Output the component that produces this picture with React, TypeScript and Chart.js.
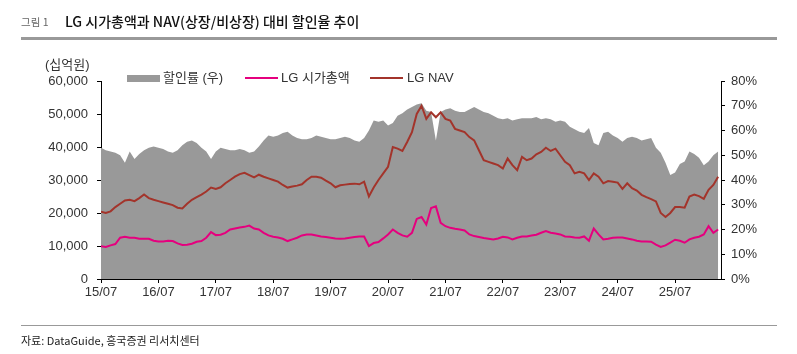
import React, { useEffect, useRef } from "react";
import { Chart, registerables } from "chart.js";

Chart.register(...registerables);

// x-axis: month index from 2015/07 (0) to 2026/04 (129)
const xTickLabels = ["15/07", "16/07", "17/07", "18/07", "19/07", "20/07", "21/07", "22/07", "23/07", "24/07", "25/07"];
const xTickMonths = [0, 12, 24, 36, 48, 60, 72, 84, 96, 108, 120];
const leftTicks = [0, 10000, 20000, 30000, 40000, 50000, 60000];
const rightTicks = [0, 10, 20, 30, 40, 50, 60, 70, 80];

// 할인률 (%), right axis
const discountRate = [
  53, 52, 51.5, 51, 50, 47, 51.5, 48.5, 50.5, 52,
  53, 53.5, 53, 52.5, 51.5, 51, 52, 54, 55.5, 56,
  55, 53, 51.5, 48.5, 51.5, 53, 52.5, 52, 52, 52.5,
  52, 51, 51.5,
  53.5, 56, 58, 57.5, 58, 59, 59.5,
  58, 57, 56.5, 56.5, 57, 58, 57.5, 57, 56.5, 56.5,
  57, 57.5, 57, 56, 55.5, 57, 60, 64, 63.5, 64,
  62, 63, 66, 67, 68.5,
  69.5, 70.5, 71, 68, 67.5,
  56, 67.5, 68.5, 69, 68, 67.5, 67.5, 68.5, 69.5, 68.5,
  67.5, 67, 66, 65, 64.5, 65, 64, 64.5, 65, 65,
  65, 65.5, 64.5, 65, 64.5, 63.5, 64,
  63.5, 61.5, 60.5,
  59.5, 59, 61, 55, 54, 59, 59.5, 58, 57, 55.5,
  57, 57.5, 57, 56, 56.5, 57, 53, 51, 47, 42,
  43, 46.5, 47.5, 51.5, 50.5, 49, 46, 47.5, 50, 51.5,
];

// LG NAV (십억원)
const navValues = [
  20400, 20000, 20500, 21800, 22800, 23800, 24000, 23600, 24500, 25600,
  24500, 24000, 23600, 23200, 22800, 22400, 21600, 21400, 22800, 24000,
  24800, 25600, 26500, 27700, 27300, 27800, 29000, 30000, 31000, 31800,
  32200, 31500, 30800,
  31600, 31000, 30500, 30000, 29500, 28500, 27700,
  28000, 28300, 28700, 30000, 31000, 31000, 30700, 29800, 29000, 27800,
  28400, 28600, 28800, 28900, 28700, 29500, 25000, 27700, 30000, 32000,
  34000, 40000, 39500, 38800, 41500,
  44500, 50000, 52500, 48500, 50500,
  49000, 50500, 48500, 48000, 45500, 45000, 44500, 43000, 42000, 39000,
  36000, 35500, 35000, 34500, 33500, 36500, 34500, 33000, 37000, 36000,
  36500, 37800, 38500, 39800, 38800, 39500, 37500,
  35500, 34500, 32000,
  32500, 32000, 30000, 32000, 31000, 29000, 29700, 29500, 29200, 27300,
  29000, 27500, 26800, 25500, 24800, 24200, 23500, 20000, 18800, 20000,
  21800, 21800, 21600, 25000, 25600, 25100, 24300, 27000, 28500, 31000,
];

// LG 시가총액 (십억원)
const marketCap = [
  9900, 9700, 10200, 10600, 12500, 12800, 12500, 12500, 12200, 12200,
  12200, 11600, 11400, 11400, 11600, 11500, 10800, 10300, 10400, 10700,
  11300, 11500, 12500, 14200, 13300, 13400, 14000, 15000, 15300, 15600,
  15800, 16200, 15300,
  15000, 14000, 13200, 12800, 12600, 12200, 11500,
  12000, 12500, 13200, 13500, 13500, 13200, 12900, 12700, 12500, 12300,
  12200, 12300, 12500, 12700, 12900, 12900, 10000, 10900, 11200, 12300,
  13500, 15000, 14000, 13200, 12800,
  14000, 18200, 18800, 16500, 21500,
  22000, 17000, 16000, 15500, 15200, 15000, 14700, 13500, 13000, 12700,
  12400, 12200, 12000, 12300, 12800, 12600, 12000, 12500, 12900, 12900,
  13200, 13400, 14000, 14500, 14000, 13800, 13500,
  12900, 12800, 12600,
  12500, 12900, 11600, 15300, 13500, 12000, 12200, 12500, 12600, 12600,
  12300, 12000, 11600, 11400, 11400, 11300, 10400, 9700, 10200, 11000,
  11900, 11600, 11000, 12000, 12500, 12800, 13500, 16000, 14000, 15000,
];

const PINK = "#e5007e";
const BROWN = "#a3342b";
const GRAY = "#999999";
const TICK_FONT = { family: "'Liberation Sans', Arial, 'Noto Sans CJK KR', sans-serif", size: 13 };
const TEXT_FONT = "'Liberation Sans', Arial, 'Noto Sans CJK KR', sans-serif";
const KR_FONT = "'Noto Sans CJK KR', 'Liberation Sans', sans-serif";

export default function App() {
  const ref = useRef<HTMLCanvasElement>(null);

  useEffect(() => {
    if (!ref.current) return;
    const toPts = (arr: number[]) => arr.map((v, i) => ({ x: i, y: v }));
    const chart = new Chart(ref.current, {
      type: "line",
      data: {
        datasets: [
          {
            label: "LG 시가총액",
            data: toPts(marketCap),
            borderColor: PINK,
            backgroundColor: PINK,
            borderWidth: 2,
            pointRadius: 0,
            tension: 0,
            fill: false,
            yAxisID: "y",
            order: 1,
          },
          {
            label: "LG NAV",
            data: toPts(navValues),
            borderColor: BROWN,
            backgroundColor: BROWN,
            borderWidth: 2,
            pointRadius: 0,
            tension: 0,
            fill: false,
            yAxisID: "y",
            order: 2,
          },
          {
            label: "할인률 (우)",
            data: toPts(discountRate),
            borderColor: GRAY,
            backgroundColor: GRAY,
            borderWidth: 0,
            pointRadius: 0,
            tension: 0,
            fill: "origin",
            yAxisID: "y1",
            order: 5,
          },
        ],
      },
      options: {
        responsive: false,
        animation: false,
        layout: { padding: { top: 81, bottom: 45, left: 0, right: 0 } },
        plugins: { legend: { display: false }, tooltip: { enabled: false } },
        scales: {
          x: {
            type: "linear",
            min: 0,
            max: 129.6,
            afterBuildTicks: (axis: any) => {
              axis.ticks = xTickMonths.map((v) => ({ value: v }));
            },
            afterFit: (s: any) => {
              s.height = 30;
            },
            ticks: {
              autoSkip: false,
              maxRotation: 0,
              padding: 2,
              color: "#333",
              font: TICK_FONT,
              callback: (_v: any, i: number) => xTickLabels[i],
            },
            grid: { drawOnChartArea: false, drawTicks: true, tickLength: 4, color: "#000" },
            border: { display: true, color: "#000", width: 1 },
          },
          y: {
            position: "left",
            min: 0,
            max: 60000,
            afterBuildTicks: (axis: any) => {
              axis.ticks = leftTicks.map((v) => ({ value: v }));
            },
            afterFit: (s: any) => {
              s.width = 101;
            },
            ticks: {
              padding: 9,
              color: "#333",
              font: TICK_FONT,
              callback: (v: any) => Number(v).toLocaleString("en-US"),
            },
            grid: { drawOnChartArea: false, drawTicks: true, tickLength: 4, color: "#000" },
            border: { display: true, color: "#000", width: 1 },
          },
          y1: {
            position: "right",
            min: 0,
            max: 80,
            afterBuildTicks: (axis: any) => {
              axis.ticks = rightTicks.map((v) => ({ value: v }));
            },
            afterFit: (s: any) => {
              s.width = 76;
            },
            ticks: {
              padding: 6,
              color: "#333",
              font: TICK_FONT,
              callback: (v: any) => `${v}%`,
            },
            grid: { drawOnChartArea: false, drawTicks: true, tickLength: 4, color: "#000" },
            border: { display: true, color: "#000", width: 1 },
          },
        },
      },
    } as any);
    return () => chart.destroy();
  }, []);

  const abs = (s: React.CSSProperties): React.CSSProperties => ({ position: "absolute", whiteSpace: "nowrap", ...s });

  return (
    <div style={{ position: "absolute", left: 0, top: 0, width: 797, height: 354, background: "#fff", overflow: "hidden" }}>
      <canvas ref={ref} width={797} height={354} style={{ position: "absolute", left: 0, top: 0, width: 797, height: 354, display: "block" }} />
      <div style={abs({ left: 21, top: 14, fontSize: 10.5, lineHeight: "15px", color: "#666", fontFamily: KR_FONT })}>그림 1</div>
      <div style={abs({ left: 65, top: 12, fontSize: 14, lineHeight: "18px", color: "#111", fontFamily: KR_FONT, fontWeight: 500 })}>
        LG 시가총액과 NAV(상장/비상장) 대비 할인율 추이
      </div>
      <div style={abs({ left: 21, top: 37, width: 756, height: 3, background: "#999" })} />
      <div style={abs({ left: 45, top: 57, fontSize: 13, lineHeight: "16px", color: "#333", fontFamily: TEXT_FONT })}>(십억원)</div>

      <div style={abs({ left: 127, top: 75, width: 33, height: 7, background: GRAY })} />
      <div style={abs({ left: 163, top: 70, fontSize: 13, lineHeight: "16px", color: "#333", fontFamily: TEXT_FONT })}>할인률 (우)</div>
      <div style={abs({ left: 245, top: 77, width: 33, height: 2, background: PINK })} />
      <div style={abs({ left: 281, top: 70, fontSize: 13, lineHeight: "16px", color: "#333", fontFamily: TEXT_FONT })}>LG 시가총액</div>
      <div style={abs({ left: 370, top: 77, width: 33, height: 2, background: BROWN })} />
      <div style={abs({ left: 407, top: 70, fontSize: 13, lineHeight: "16px", color: "#333", fontFamily: TEXT_FONT })}>LG NAV</div>

      <div style={abs({ left: 21, top: 325, width: 756, height: 1, background: "#999" })} />
      <div style={abs({ left: 21, top: 333, fontSize: 11, lineHeight: "14px", color: "#222", fontFamily: KR_FONT })}>
        자료: DataGuide, 흥국증권 리서치센터
      </div>
    </div>
  );
}
